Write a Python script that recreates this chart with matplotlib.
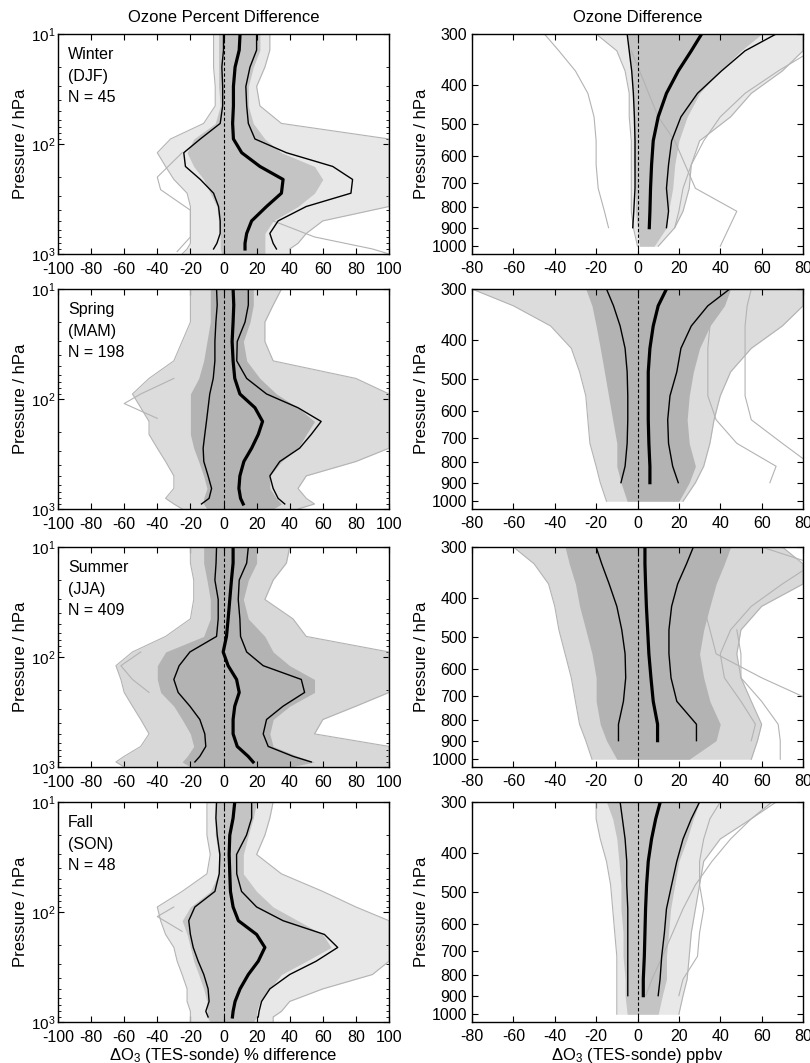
import numpy as np
import matplotlib.pyplot as plt
from matplotlib.ticker import FixedLocator, FixedFormatter, NullLocator, LogLocator

plt.rcParams['font.family'] = ['Liberation Sans', 'DejaVu Sans']
plt.rcParams['mathtext.fontset'] = 'custom'
plt.rcParams['mathtext.rm'] = 'Liberation Sans'
plt.rcParams['mathtext.it'] = 'Liberation Sans:italic'
plt.rcParams['mathtext.default'] = 'regular'
plt.rcParams['axes.unicode_minus'] = False

SEASONS = ['Winter', 'Spring', 'Summer', 'Fall']
MONTHS = ['(DJF)', '(MAM)', '(JJA)', '(SON)']
COUNTS = [45, 198, 409, 48]

# pressure levels (hPa)
P_LEFT = [10, 14, 20, 30, 45, 65, 90, 120, 160, 210, 280, 370, 500, 650, 800, 900]
P_LEFT_GRAY = P_LEFT + [1000]
P_RIGHT = [300, 330, 370, 420, 480, 550, 630, 720, 820, 900]
P_RIGHT_GRAY = P_RIGHT + [1000]

# ---- percent difference (left column) ----
pct_med_djf = [10, 9.5, 7, 6, 6, 5.5, 6, 11, 22, 36, 35, 26, 17, 14, 13, 13]
pct_hi_djf = [20, 20, 16, 13.5, 14, 15, 19, 38, 66, 78, 77, 50, 33, 28, 30, 32]
pct_lo_djf = [0, 0, -1, -0.5, -0.5, -2, -14, -24, -23, -14, -6, -3, -2, -2, -4, -6]
pct_in_lo_djf = [-3, -3, -3, -3, -2, -5, -18, -22, -18, -12, -8, -4, -3, -2, -2, -2, -1]
pct_in_hi_djf = [22, 22, 18, 15, 15, 18, 25, 35, 55, 60, 55, 45, 30, 25, 25, 25, 25]
pct_out_lo_djf = [-6, -6, -6, -5, -5, -12, -32, -40, -35, -30, -22, -20, -20, -20, -20, -22, -25]
pct_out_hi_djf = [28, 28, 25, 20, 22, 35, 100, 100, 100, 100, 100, 100, 60, 50, 45, 40, 40]

pct_med_mam = [5.8, 6.2, 5.8, 5.2, 5.8, 6.8, 9.9, 19, 23.6, 21, 17, 12.3, 9.9, 9.3, 10.3, 11.9]
pct_hi_mam = [15, 15, 13, 8.3, 8, 14, 26, 45, 59, 53, 46, 34, 28, 30, 33, 37]
pct_lo_mam = [-4.2, -3.8, -4.6, -5.2, -5.2, -6.2, -8.3, -9.3, -10.3, -11.3, -12.3, -11.9, -9.3, -7.2, -8.7, -13.3]
pct_in_lo_mam = [-8, -8, -8, -10, -12, -15, -20, -20, -20, -20, -18, -15, -12, -10, -12, -12, -10]
pct_in_hi_mam = [18, 18, 16, 12, 14, 22, 32, 45, 55, 50, 45, 35, 28, 28, 32, 35, 30]
pct_out_lo_mam = [-20, -20, -20, -25, -30, -45, -55, -50, -45, -45, -40, -35, -30, -30, -35, -30, -25]
pct_out_hi_mam = [35, 30, 25, 25, 30, 80, 100, 100, 100, 100, 100, 80, 50, 45, 50, 55, 45]

pct_med_jja = [5.8, 5.8, 4.8, 3.8, 2.8, 1.8, -0.2, 2.8, 7.9, 9.5, 6.8, 5.8, 5.8, 8.3, 14.9, 17.9]
pct_hi_jja = [15, 14, 9.5, 8.9, 9.9, 10.3, 14, 24, 47, 49, 36, 26, 24, 27, 42, 53]
pct_lo_jja = [-4.2, -4.5, -5.2, -3.2, -3.2, -4.2, -20.3, -26.8, -30, -27.4, -20.3, -14.3, -11.3, -10.7, -14.3, -17.3]
pct_in_lo_jja = [-12, -12, -10, -8, -8, -12, -35, -40, -40, -38, -30, -25, -20, -18, -22, -25, -20]
pct_in_hi_jja = [20, 20, 15, 12, 15, 25, 30, 40, 55, 55, 40, 30, 28, 30, 45, 55, 40]
pct_out_lo_jja = [-20, -20, -18, -18, -20, -35, -55, -65, -62, -60, -55, -50, -45, -50, -60, -65, -60]
pct_out_hi_jja = [40, 38, 30, 25, 42, 50, 100, 100, 100, 100, 80, 60, 55, 100, 100, 100, 100]

pct_med_son = [6.8, 5.8, 3.8, 3.4, 3.8, 4.2, 5.8, 9, 20, 25, 21, 15, 10, 7, 5.8, 5.4]
pct_hi_son = [17, 17, 13.9, 7.9, 8, 10.9, 20, 36, 61, 69, 56, 40, 28, 23, 21.5, 21]
pct_lo_son = [-4.2, -4.6, -3.8, -2.2, -2.6, -5.2, -17.3, -21, -20, -18.3, -15.3, -11.9, -9.3, -8.7, -10.7, -9.3]
pct_in_lo_son = [-5, -5, -5, -3, -3, -8, -20, -25, -22, -20, -18, -15, -12, -10, -10, -10, -8]
pct_in_hi_son = [20, 18, 15, 12, 12, 20, 30, 45, 60, 65, 50, 35, 28, 22, 20, 20, 18]
pct_out_lo_son = [-10, -10, -10, -8, -10, -25, -40, -38, -35, -30, -28, -25, -22, -22, -20, -20, -20]
pct_out_hi_son = [30, 28, 25, 20, 35, 60, 80, 100, 100, 100, 100, 90, 60, 40, 35, 30, 30]

# single grey profiles outside the bands (pressure, value)
pct_extra_djf = [([500, 700, 900, 1000], [30, 55, 90, 100]),
                 ([120, 200, 260, 400, 700, 950], [-25, -40, -38, -20, -20, -28])]
pct_extra_mam = [([65, 90, 110, 150], [-30, -50, -60, -40])]
pct_extra_jja = [([90, 120, 160, 210], [-50, -62, -55, -45])]
pct_extra_son = [([90, 110, 150], [-30, -40, -25])]

# ---- absolute difference in ppbv (right column) ----
ppb_med_djf = [31, 26, 19.7, 14, 10, 7.6, 6.8, 6.3, 6, 5.7]
ppb_hi_djf = [67, 52, 40.6, 29, 21, 16.5, 15, 14, 15, 14]
ppb_lo_djf = [-5, -4, -2.8, -2, -1.5, -1.2, -1.2, -1.2, -1.8, -2.3]
ppb_in_lo_djf = [-5, -4, -3, -2, -2, -2, -2, -1, -1, 0, 1]
ppb_in_hi_djf = [60, 50, 40, 30, 24, 20, 18, 17, 15, 14, 8]
ppb_out_lo_djf = [-20, -10, -6, -4, -4, -3, -3, -3, -3, -2, 0]
ppb_out_hi_djf = [80, 80, 70, 55, 45, 30, 26, 25, 22, 18, 10]

ppb_med_mam = [14, 10, 7.6, 6, 5.2, 5.2, 5.2, 5.5, 6, 6]
ppb_hi_mam = [44.6, 34, 26, 21, 19, 15.7, 14.6, 15, 17, 19.7]
ppb_lo_mam = [-15, -11.6, -8.4, -6, -5, -4.7, -4.7, -5, -6, -8]
ppb_in_lo_mam = [-25, -22, -20, -18, -16, -14, -12, -10, -10, -8, -5]
ppb_in_hi_mam = [45, 42, 35, 30, 27, 25, 24, 25, 28, 25, 20]
ppb_out_lo_mam = [-80, -60, -42, -32, -28, -25, -24, -23, -20, -18, -15]
ppb_out_hi_mam = [80, 80, 70, 55, 45, 40, 37, 35, 32, 28, 22]

ppb_med_jja = [3.6, 3.6, 3.9, 4.3, 4.9, 5.5, 6.5, 7.6, 9.7, 9.7]
ppb_hi_jja = [27, 23.7, 19.4, 16.5, 15.2, 15.2, 16.2, 19, 28.5, 28.5]
ppb_lo_jja = [-20, -17.3, -13.7, -10, -7.6, -6, -5.7, -6.8, -9.2, -9.2]
ppb_in_lo_jja = [-35, -33, -30, -28, -25, -22, -20, -20, -18, -15, -10]
ppb_in_hi_jja = [45, 42, 38, 35, 32, 30, 32, 35, 40, 38, 25]
ppb_out_lo_jja = [-60, -50, -43, -40, -38, -35, -32, -30, -28, -25, -22]
ppb_out_hi_jja = [70, 80, 80, 60, 50, 48, 50, 55, 60, 58, 55]

ppb_med_son = [11, 8.8, 6.8, 5.2, 4.4, 3.9, 3.6, 3.3, 2.8, 2.8]
ppb_hi_son = [30, 26, 22, 19, 16.5, 14, 13, 11.7, 10.9, 10]
ppb_lo_son = [-8.4, -7.3, -6, -5.2, -5.2, -4.7, -4.7, -4.7, -4.7, -4.7]
ppb_in_lo_son = [-15, -12, -10, -9, -8, -8, -7, -7, -6, -6, -5]
ppb_in_hi_son = [30, 27, 24, 20, 18, 16, 15, 14, 14, 12, 10]
ppb_out_lo_son = [-20, -20, -18, -15, -13, -12, -11, -10, -10, -10, -10]
ppb_out_hi_son = [65, 55, 40, 32, 30, 28, 26, 25, 24, 22, 20]

ppb_extra_djf = [(P_RIGHT, [-45, -38, -30, -24, -21, -20, -20, -19, -16, -14]),
                 ([330, 370, 480, 550, 720, 820, 1000], [-3, 1, 10, 18, 28, 48, 40]),
                 ([340, 370, 420, 480, 550, 630, 720, 820, 900], [80, 68, 52, 40, 32, 26, 22, 20, 18])]
ppb_extra_mam = [(P_RIGHT, [55, 53, 52, 52, 52, 52, 55, 70, 85, 90]),
                 (P_RIGHT, [37, 36, 35, 34, 34, 34, 38, 48, 67, 64])]
ppb_extra_jja = [(P_RIGHT, [60, 85, 70, 55, 45, 40, 42, 50, 57, 55]),
                 (P_RIGHT, [30, 30, 30, 32, 35, 38, 60, 85, 90, 90]),
                 ([480, 550, 630, 720, 820, 900, 1000], [48, 50, 50, 60, 68, 69, 69])]
ppb_extra_son = [(P_RIGHT, [67, 55, 45, 36, 28, 22, 17, 12, 7, 4]),
                 (P_RIGHT, [40, 35, 32, 30, 30, 32, 30, 29, 22, 20])]

left_sets = [
    (pct_med_djf, pct_hi_djf, pct_lo_djf, pct_in_lo_djf, pct_in_hi_djf, pct_out_lo_djf, pct_out_hi_djf, pct_extra_djf),
    (pct_med_mam, pct_hi_mam, pct_lo_mam, pct_in_lo_mam, pct_in_hi_mam, pct_out_lo_mam, pct_out_hi_mam, pct_extra_mam),
    (pct_med_jja, pct_hi_jja, pct_lo_jja, pct_in_lo_jja, pct_in_hi_jja, pct_out_lo_jja, pct_out_hi_jja, pct_extra_jja),
    (pct_med_son, pct_hi_son, pct_lo_son, pct_in_lo_son, pct_in_hi_son, pct_out_lo_son, pct_out_hi_son, pct_extra_son),
]
right_sets = [
    (ppb_med_djf, ppb_hi_djf, ppb_lo_djf, ppb_in_lo_djf, ppb_in_hi_djf, ppb_out_lo_djf, ppb_out_hi_djf, ppb_extra_djf),
    (ppb_med_mam, ppb_hi_mam, ppb_lo_mam, ppb_in_lo_mam, ppb_in_hi_mam, ppb_out_lo_mam, ppb_out_hi_mam, ppb_extra_mam),
    (ppb_med_jja, ppb_hi_jja, ppb_lo_jja, ppb_in_lo_jja, ppb_in_hi_jja, ppb_out_lo_jja, ppb_out_hi_jja, ppb_extra_jja),
    (ppb_med_son, ppb_hi_son, ppb_lo_son, ppb_in_lo_son, ppb_in_hi_son, ppb_out_lo_son, ppb_out_hi_son, ppb_extra_son),
]

INNER_COL = ['#c4c4c4', '#b3b3b3', '#b3b3b3', '#c4c4c4']
OUTER_COL = ['#e8e8e8', '#dcdcdc', '#d8d8d8', '#e8e8e8']
GREY = '#b3b3b3'
FS = 11.5   # tick labels
FT = 12     # titles, axis labels, season text


def draw_panel(ax, p_black, p_gray, data, i):
    med, hi, lo, in_lo, in_hi, out_lo, out_hi, extra = data
    ax.fill_betweenx(p_gray, out_lo, out_hi, color=OUTER_COL[i], lw=0)
    ax.plot(out_lo, p_gray, color=GREY, lw=0.8)
    ax.plot(out_hi, p_gray, color=GREY, lw=0.8)
    ax.fill_betweenx(p_gray, in_lo, in_hi, color=INNER_COL[i], lw=0)
    for pp, xx in extra:
        ax.plot(xx, pp, color=GREY, lw=0.8)
    ax.axvline(0, color='k', ls='--', lw=0.8, dashes=(3, 2))
    ax.plot(lo, p_black, color='k', lw=1.0)
    ax.plot(hi, p_black, color='k', lw=1.0)
    ax.plot(med, p_black, color='k', lw=2.3)
    ax.tick_params(which='both', direction='in', top=True, right=True, labelsize=FS)
    ax.tick_params(which='major', length=4)
    ax.tick_params(which='minor', length=2)
    ax.tick_params(axis='x', pad=5)
    ax.set_ylabel('Pressure / hPa', fontsize=FT, labelpad=2)


fig = plt.figure(figsize=(8.1, 10.63), dpi=100)
W, H = 810, 1063
tops = [34, 289, 547, 802]
for i in range(4):
    b = 1 - (tops[i] + 220) / H
    axl = fig.add_axes([58 / W, b, 331 / W, 220 / H])
    axr = fig.add_axes([472 / W, b, 331 / W, 220 / H])

    draw_panel(axl, P_LEFT, P_LEFT_GRAY, left_sets[i], i)
    axl.set_yscale('log')
    axl.set_ylim(1000, 10)
    axl.set_xlim(-100, 100)
    axl.set_xticks(np.arange(-100, 101, 20))
    axl.yaxis.set_minor_locator(LogLocator(base=10, subs=np.arange(2, 10)))
    axl.tick_params(axis='y', which='major', labelsize=FS - 0.5, pad=2)
    axl.tick_params(axis='x', pad=6)
    axl.text(0.03, 0.94, f'{SEASONS[i]}\n{MONTHS[i]}\nN = {COUNTS[i]}',
             transform=axl.transAxes, va='top', ha='left', fontsize=FT - 0.5,
             linespacing=1.55)

    draw_panel(axr, P_RIGHT, P_RIGHT_GRAY, right_sets[i], i)
    axr.set_yscale('log')
    axr.set_ylim(1045, 300)
    axr.set_xlim(-80, 80)
    axr.set_xticks(np.arange(-80, 81, 20))
    yt = [300, 400, 500, 600, 700, 800, 900, 1000]
    axr.yaxis.set_major_locator(FixedLocator(yt))
    axr.yaxis.set_major_formatter(FixedFormatter([str(v) for v in yt]))
    axr.yaxis.set_minor_locator(NullLocator())

    for ax in (axl, axr):
        for s in ax.spines.values():
            s.set_linewidth(1.0)

    if i == 3:
        axl.set_xlabel(r'$\Delta$O$_3$ (TES-sonde) % difference', fontsize=FT, labelpad=0.5)
        axr.set_xlabel(r'$\Delta$O$_3$ (TES-sonde) ppbv', fontsize=FT, labelpad=1.5)

fig.text((58 + 331 / 2) / W, 1 - 17 / H, 'Ozone Percent Difference', ha='center', va='center', fontsize=FT)
fig.text((472 + 331 / 2) / W, 1 - 17 / H, 'Ozone Difference', ha='center', va='center', fontsize=FT)

fig.savefig('out.png', dpi=100)
